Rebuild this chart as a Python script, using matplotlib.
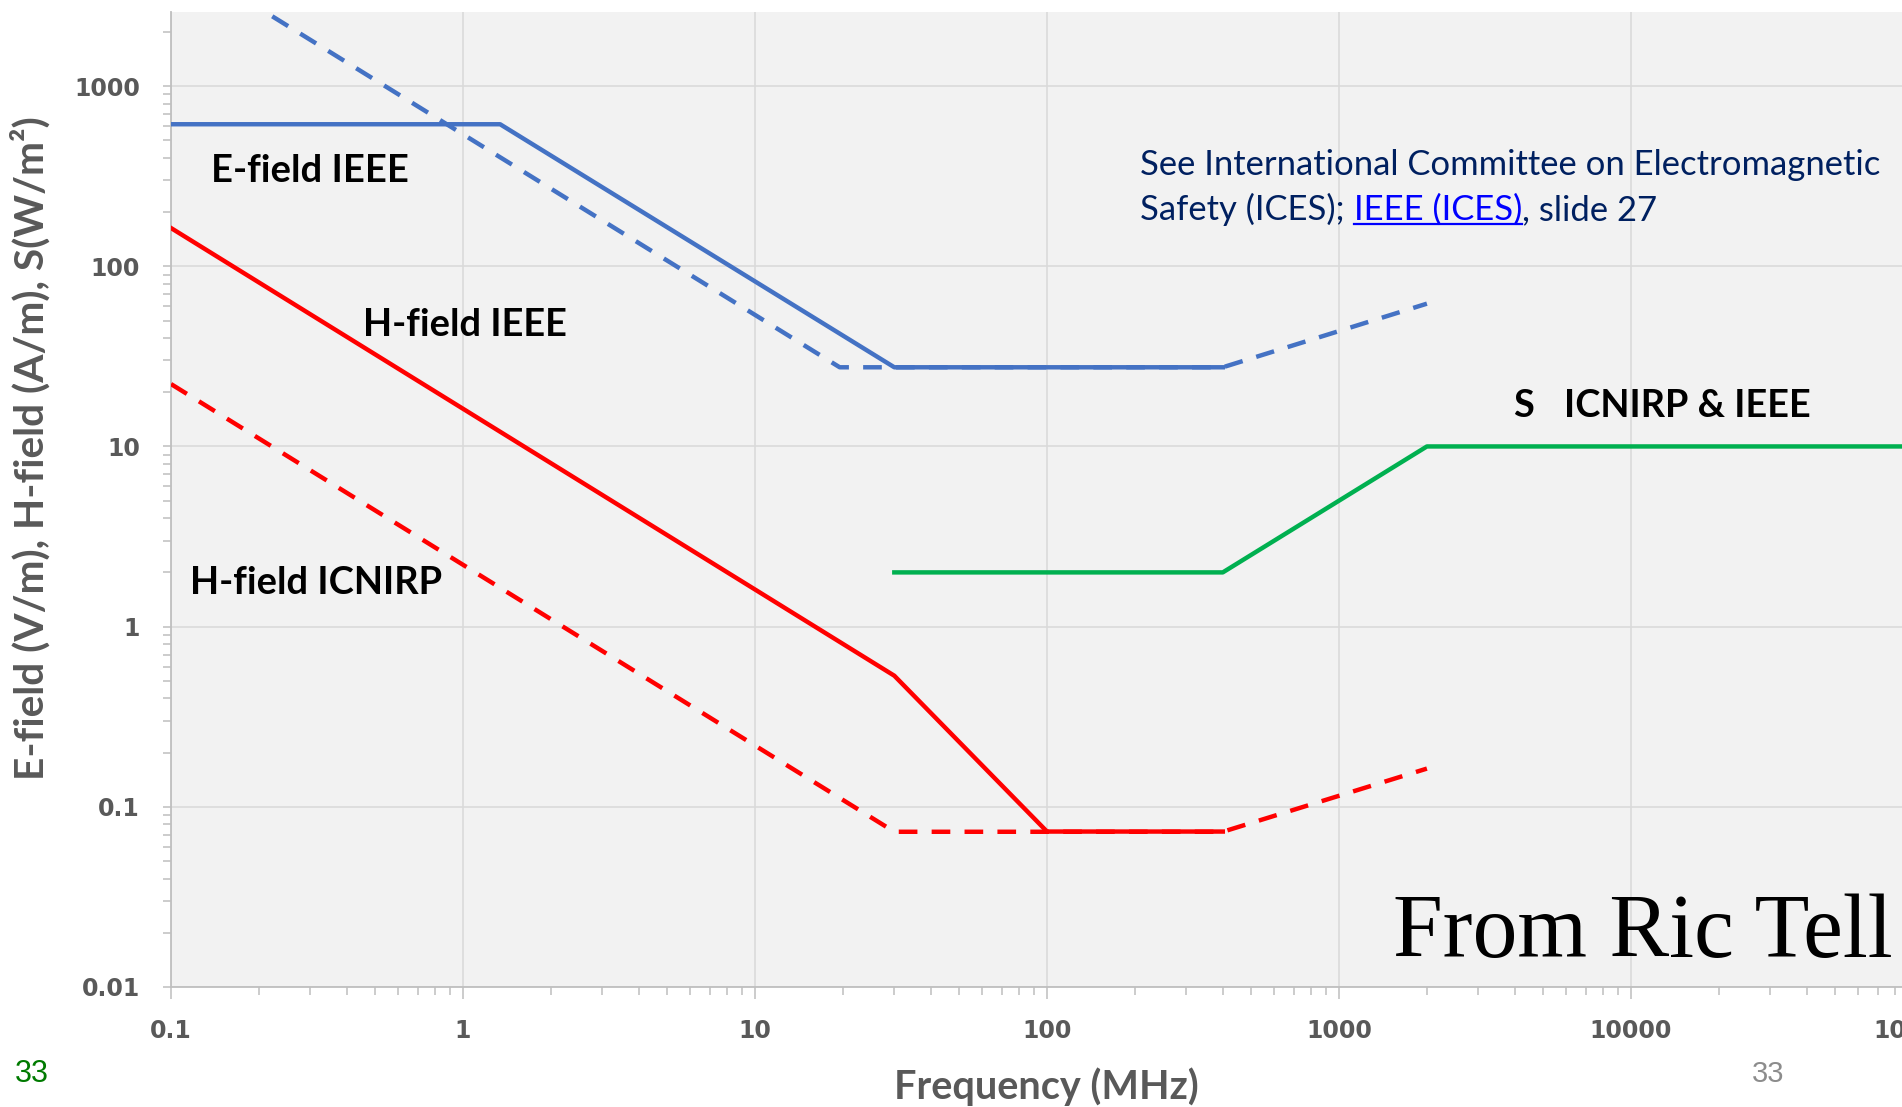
import matplotlib
matplotlib.use('Agg')
import matplotlib.pyplot as plt
from matplotlib.ticker import FixedLocator, FixedFormatter, LogLocator, NullFormatter
from matplotlib.lines import Line2D

# ---------------- data ----------------
x_ticks = [0.1, 1, 10, 100, 1000, 10000, 100000]
x_tick_labels = ['0.1', '1', '10', '100', '1000', '10000', '100000']
y_ticks = [0.01, 0.1, 1, 10, 100, 1000]
y_tick_labels = ['0.01', '0.1', '1', '10', '100', '1000']

# E-field IEEE (solid blue)
e_ieee_f = [0.1, 1.34, 30, 400]
e_ieee_v = [614, 614, 27.5, 27.5]
# E-field ICNIRP (dashed blue)
e_icnirp_f = [0.1, 19.5, 400, 2000]
e_icnirp_v = [5430, 27.5, 27.5, 62]
# H-field IEEE (solid red)
h_ieee_f = [0.1, 30, 100, 400]
h_ieee_v = [163, 0.534, 0.0729, 0.0729]
# H-field ICNIRP (dashed red)
h_icnirp_f = [0.1, 30, 400, 2000]
h_icnirp_v = [22.2, 0.0727, 0.0727, 0.163]
# S ICNIRP & IEEE (solid green)
s_f = [30, 400, 2000, 100000]
s_v = [2, 2, 10, 10]

# ---------------- figure ----------------
W, H = 1902, 1107
fig = plt.figure(figsize=(W / 100, H / 100), dpi=100)
fig.patch.set_facecolor('white')


def fx(x):
    return x / W


def fy(y):
    return 1 - y / H


ax = fig.add_axes([fx(171), fy(987), (1923 - 171) / W, (987 - 12) / H])
ax.set_facecolor('#F2F2F2')
ax.set_xscale('log')
ax.set_yscale('log')
ax.set_xlim(0.1, 1e5)
ax.set_ylim(0.01, 2577)

grid_c = '#D9D9D9'
spine_c = '#BFBFBF'
lab_c = '#595959'
ax.grid(True, which='major', color=grid_c, lw=1.1, zorder=0)
ax.set_axisbelow(True)
for s in ['top', 'right']:
    ax.spines[s].set_visible(False)
for s in ['left', 'bottom']:
    ax.spines[s].set_color(spine_c)
    ax.spines[s].set_linewidth(1.3)

ax.xaxis.set_major_locator(FixedLocator(x_ticks))
ax.xaxis.set_major_formatter(FixedFormatter(x_tick_labels))
ax.xaxis.set_minor_locator(LogLocator(base=10, subs=range(2, 10), numticks=30))
ax.xaxis.set_minor_formatter(NullFormatter())
ax.yaxis.set_major_locator(FixedLocator(y_ticks))
ax.yaxis.set_major_formatter(FixedFormatter(y_tick_labels))
ax.yaxis.set_minor_locator(LogLocator(base=10, subs=range(2, 10), numticks=30))
ax.yaxis.set_minor_formatter(NullFormatter())

ax.tick_params(axis='x', which='major', length=8.6, width=1.1, color=spine_c,
               pad=14.5, labelsize=17, labelcolor=lab_c)
ax.tick_params(axis='x', which='minor', length=5.8, width=1.1, color=spine_c)
ax.tick_params(axis='y', which='both', length=5.8, width=1.1, color=spine_c,
               pad=16.5, labelsize=17, labelcolor=lab_c)
for lbl in ax.get_xticklabels() + ax.get_yticklabels():
    lbl.set_fontweight('bold')
    lbl.set_family('DejaVu Sans')

blue = '#4472C4'
red = '#FF0000'
green = '#00B050'
lw = 3.2
dash = (4.2, 3.2)

ax.plot(e_icnirp_f, e_icnirp_v, color=blue, lw=lw, dashes=dash, zorder=3)
ax.plot(e_ieee_f, e_ieee_v, color=blue, lw=lw, zorder=3)
ax.plot(h_icnirp_f, h_icnirp_v, color=red, lw=lw, dashes=dash, zorder=3)
ax.plot(h_ieee_f, h_ieee_v, color=red, lw=lw, zorder=3)
ax.plot(s_f, s_v, color=green, lw=lw, zorder=3)

fig.canvas.draw()
R = fig.canvas.get_renderer()


def fit_w(t, target):
    w = t.get_window_extent(R).width
    t.set_fontsize(t.get_fontsize() * target / w)


def fit_h(t, target):
    h = t.get_window_extent(R).height
    t.set_fontsize(t.get_fontsize() * target / h)


def ftext(x, y, s, target_w=None, **kw):
    t = fig.text(fx(x), fy(y), s, **kw)
    if target_w is not None:
        fit_w(t, target_w)
    return t


sans = ['Lato', 'DejaVu Sans']

# curve labels
ftext(211, 182, 'E-field IEEE', 198, family=sans, weight='bold', fontsize=20,
      color='black', va='baseline', ha='left')
ftext(363, 336, 'H-field IEEE', 205, family=sans, weight='bold', fontsize=20,
      color='black', va='baseline', ha='left')
ftext(190, 594, 'H-field ICNIRP', 253, family=sans, weight='bold', fontsize=20,
      color='black', va='baseline', ha='left')
t_ic = ftext(1564, 417, 'ICNIRP & IEEE', 247, family=sans, weight='bold',
             fontsize=20, color='black', va='baseline', ha='left')
ftext(1513, 417, 'S', None, family=sans, weight='bold',
      fontsize=t_ic.get_fontsize(), color='black', va='baseline', ha='left')

# reference note
navy = '#002060'
l1 = ftext(1140, 175, 'See International Committee on Electromagnetic', 740,
           family=sans, fontsize=20, color=navy, va='baseline', ha='left')
fs = l1.get_fontsize()


def width_of(s):
    t = fig.text(0, 0, s, family=sans, fontsize=fs)
    w = t.get_window_extent(R).width
    t.remove()
    return w


part1 = 'Safety (ICES); '
link = 'IEEE (ICES)'
part3 = ', slide 27'
w12 = width_of(part1 + link)
wl = width_of(link)
w123 = width_of(part1 + link + part3)
w3 = width_of(part3)
x0 = 1140
ftext(x0, 220, part1.strip(), None, family=sans, fontsize=fs, color=navy,
      va='baseline', ha='left')
lx = x0 + w12 - wl
ftext(lx, 220, link, None, family=sans, fontsize=fs, color='#0000FF',
      va='baseline', ha='left')
fig.add_artist(Line2D([fx(lx), fx(lx + wl)], [fy(224), fy(224)],
                      transform=fig.transFigure, color='#0000FF', lw=1.6))
ftext(x0 + w123 - w3, 220, part3, None, family=sans, fontsize=fs, color=navy,
      va='baseline', ha='left')

# big credit
fig.text(fx(1393), fy(957), 'From Ric Tell', family=['Liberation Serif', 'DejaVu Serif'],
         fontsize=64.5, color='black', va='baseline', ha='left')

# axis labels
ftext(1046, 1087, 'Frequency (MHz)', 304, family=sans, weight='bold',
      fontsize=20, color=lab_c, va='center', ha='center')
yl = fig.text(fx(30), fy(448), 'E-field (V/m), H-field (A/m), S(W/m\u00b2)',
              family=sans, weight='bold', fontsize=20, color=lab_c,
              rotation=90, va='center', ha='center')
fit_h(yl, 665)

# slide numbers
fig.text(fx(15), fy(1074), '33', family=['Liberation Sans', 'DejaVu Sans'],
         fontsize=22, color='#007A00', va='center', ha='left')
fig.text(fx(1768), fy(1074), '33', family=['Liberation Sans', 'DejaVu Sans'],
         fontsize=21, color='#8C8C8C', va='center', ha='center')

fig.savefig('out.png', dpi=100, facecolor='white')
